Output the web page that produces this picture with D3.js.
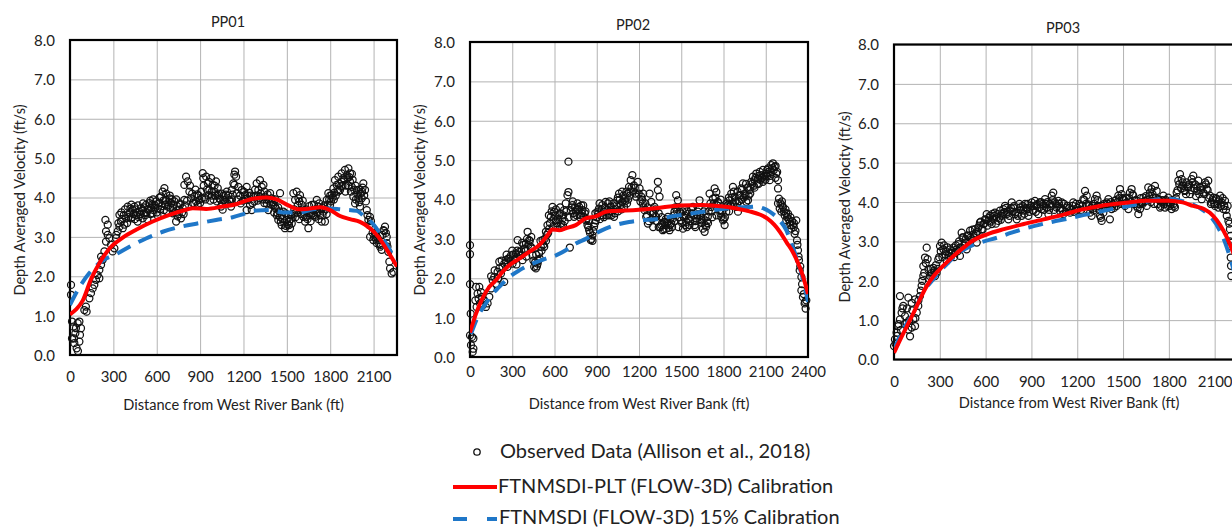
<!DOCTYPE html>
<html>
<head>
<meta charset="utf-8">
<script src="https://cdn.jsdelivr.net/npm/d3@7"></script>
<style>
html,body{margin:0;padding:0;background:#fff;}
svg{display:block;}
text{font-family:Lato,"Open Sans",sans-serif;fill:#222;}
</style>
</head>
<body>
<svg id="chart" width="1232" height="529"></svg>
<script>
// ---------- DATA ----------
const panelTitles = ["PP01", "PP02", "PP03"];
const xMaxes = [2262, 2400, 2262];
const yTicks = [0, 1, 2, 3, 4, 5, 6, 7, 8];
const xTicksPP01 = [0, 300, 600, 900, 1200, 1500, 1800, 2100];
const xTicksPP02 = [0, 300, 600, 900, 1200, 1500, 1800, 2100, 2400];
const xTicksPP03 = [0, 300, 600, 900, 1200, 1500, 1800, 2100];
const xAxisTitle = "Distance from West River Bank (ft)";
const yAxisTitle = "Depth Averaged Velocity (ft/s)";
const legendLabels = ["Observed Data (Allison et al., 2018)", "FTNMSDI-PLT (FLOW-3D) Calibration", "FTNMSDI (FLOW-3D) 15% Calibration"];

// Observed data PP01
const obsPP01 = [[7,1.78],[7,1.53],[14,0.85],[23,0.72],[37,0.55],[14,0.42],[30,0.30],[46,0.17],[55,0.10],[65,0.34],[69,0.51],[76,0.68],[65,0.85],[53,0.81],[41,0.68],[28,0.42],
[99,1.14],[110,1.23],[115,1.1],[134,1.44],[145,1.57],[157,1.69],[168,1.78],[180,1.91],[191,2.03],[203,2.16],[203,1.95],[215,2.29],[215,2.5],[226,2.42],[238,2.63],[249,2.88],[249,3.14],[245,3.43],[261,3.31],[261,3.05],[272,2.97],[284,2.8],[295,2.63],[307,2.71],[318,2.97],[330,3.14],[342,3.56],[342,3.26],[353,3.39],[365,3.22],[376,3.31],[388,3.47],[399,3.77],[411,3.6],[422,3.47],[434,3.69],[445,3.77],[457,3.56],[468,3.39],[480,3.64],[492,3.73],[503,3.47],[515,3.6],[526,3.81],[538,3.69],[549,3.86],[561,3.73],[572,3.6],[584,3.81],[595,3.9],[607,3.73],[618,3.86],[630,4.03],[641,4.15],[653,4.24],[664,3.94],[676,3.77],[688,3.98],[699,3.86],[711,3.73],[722,3.9],[734,3.39],[745,3.52],[757,3.69],[768,3.47],[780,3.73],[791,3.94],[791,4.32],[803,4.53],[814,4.41],[826,4.15],[837,3.98],[849,3.86],[861,4.03],[872,3.9],[884,3.81],[895,3.94],[907,4.15],[918,4.62],[922,4.49],[942,4.53],[953,4.36],[964,4.19],[976,4.49],[987,4.32],[999,4.15],[1010,4.41],[1022,4.24],[1033,3.98],[1045,3.77],[1056,3.69],[1068,3.94],[1079,4.07],[1102,3.94],[1114,3.77],[1125,4.07],[1137,4.32],[1137,4.58],
[1142,4.66],[1149,4.53],[1130,4.36],[1119,4.19],[1153,4.11],[1165,4.27],[1188,4.19],[1211,4.06],[1222,4.27],[1234,3.94],[1245,3.81],[1222,3.68],[1257,3.68],[1268,4.02],[1291,4.36],[1303,4.19],[1314,4.44],[1326,4.27],[1338,4.32],[1349,4.02],[1361,3.85],[1372,3.68],[1384,4.11],[1395,3.98],[1407,3.81],[1418,3.77],[1430,3.55],[1441,3.43],[1453,3.51],[1453,4.11],[1464,3.3],[1476,3.64],[1487,3.22],[1499,3.43],[1510,3.55],[1522,3.22],[1534,3.34],[1545,4.11],[1557,3.94],[1568,4.15],[1580,3.98],[1591,4.06],[1591,3.68],[1603,3.81],[1614,3.51],[1626,3.39],[1637,3.51],[1649,3.22],[1660,3.6],[1672,3.81],[1683,3.68],[1695,3.51],[1707,3.94],[1718,3.77],[1730,3.55],[1741,3.39],[1753,3.64],[1764,3.39],[1776,3.94],[1787,4.11],[1799,3.81],[1810,4.06],[1822,4.23],[1833,4.44],[1845,4.32],[1856,4.53],[1868,4.19],[1879,4.61],[1891,4.49],[1902,4.7],[1914,4.57],[1926,4.74],[1937,4.61],[1937,4.4],[1949,4.27],[1960,4.02],[1972,3.85],[1983,4.19],[1995,3.98],[2006,3.77],[2018,3.98],[2029,4.36],[2041,4.19],[2053,3.68],[2064,3.43],[2075,3.51],[2087,3.26],[2076,3.0],[2098,2.92],[2110,3.09],[2122,2.84],[2133,2.92],[2145,2.75],[2156,2.67],[2168,3.17],[2179,3.26],[2191,3.0],[2191,2.84],[2202,2.62],[2209,2.37],[2214,2.2],[2225,2.07],[2237,2.11],
[320,3.05],[335,3.35],[360,3.45],[372,3.55],[395,3.35],[405,3.5],[418,3.72],[430,3.5],[440,3.58],[452,3.7],[463,3.62],[475,3.5],[487,3.58],[498,3.66],[510,3.75],[520,3.55],[532,3.62],[544,3.7],[556,3.58],[566,3.82],[578,3.68],[590,3.74],[600,3.62],[612,3.85],[624,3.7],[636,3.78],[646,3.92],[658,3.82],[670,3.65],[682,3.88],[694,3.74],[705,3.95],[716,3.82],[728,3.62],[740,3.78],[752,3.58],[763,3.82],[775,3.62],[786,3.58],
[860,3.85],[880,4.08],[900,3.86],[912,3.98],[930,4.0],[947,4.2],[958,4.06],[970,3.92],[982,4.05],[993,3.95],[1005,4.05],[1016,3.9],[1028,4.1],[1040,3.95],[1052,3.85],[1062,4.05],[1074,3.88],[1085,4.15],[1096,4.05],[1108,3.9],[1160,3.95],[1176,4.05],[1196,3.92],[1205,4.14],[1228,4.05],[1240,4.12],[1262,3.86],[1275,3.9],[1285,4.05],[1297,3.92],[1310,3.98],[1320,4.1],[1332,3.95],[1344,3.86],[1356,3.95],[1367,4.08],[1378,3.9],[1390,3.82],[1401,3.88],[1412,3.62],[1424,3.72],[1436,3.6],[1447,3.65],[1458,3.38],[1470,3.45],[1482,3.36],[1493,3.28],[1505,3.32],[1516,3.4],[1528,3.45],[1540,3.58],[1552,3.7],[1563,3.62],[1575,3.8],[1586,3.9],[1597,3.58],[1608,3.7],[1620,3.62],[1632,3.7],[1643,3.45],[1655,3.78],[1666,3.55],[1678,3.6],[1689,3.82],[1700,3.7],[1712,3.62],[1724,3.85],[1736,3.7],[1747,3.55],[1758,3.8],[1770,3.7],[1782,3.82],[1793,3.95],[1805,3.9],[1816,4.0],[1828,4.12],[1839,4.05],[1850,4.2],[1862,4.35],[1874,4.28],[1885,4.3],[1897,4.45],[1908,4.3],[1920,4.5],[1931,4.52],[1943,4.15],[1955,4.45],[1966,4.2],[1978,3.95],[1989,4.08],[2000,3.88],[2012,4.1],[2024,4.25],[2035,4.05],[2047,3.9],[2058,3.55],[2070,3.3],[2082,3.4],[2093,3.1],[2104,3.0],[2116,2.95],[2127,2.98],[2139,2.82],[2150,2.8],[2162,3.05],[2173,3.15],[2185,3.1],[2196,2.75],
[355,3.62],[380,3.7],[425,3.82],[448,3.45],[470,3.8],[505,3.85],[535,3.45],[555,3.92],[575,3.95],[605,3.55],[620,4.0],[650,3.68],[665,4.1],[690,4.05],[712,3.6],[735,3.95],[760,3.85],[795,3.8],[810,3.92],[830,4.3],[845,4.1],[868,4.2],[890,4.05],[925,4.3],[936,3.95],[960,4.4],[980,4.15],[1000,4.3],[1020,4.05],[1050,4.1],[1090,3.85],[1120,3.95],[1180,3.85],[1215,3.95],[1250,4.05],[1280,4.2],[1300,4.05],[1345,4.15],[1370,3.95],[1420,3.95],[1440,3.75],[1465,3.55],[1490,3.6],[1515,3.3],[1530,3.55],[1560,3.5],[1585,3.45],[1610,3.92],[1640,3.65],[1665,3.4],[1690,3.55],[1720,3.45],[1745,3.75],[1775,3.58],[1800,4.05],[1825,3.95],[1855,4.15],[1880,4.4],[1905,4.15],[1925,4.3],[1950,4.6],[1975,4.3],[2000,4.2],[2020,4.15]];

const redPP01 = [[0,1.03],[40,1.15],[88,1.38],[145,1.92],[203,2.33],[272,2.7],[365,2.98],[457,3.18],[572,3.39],[688,3.56],[803,3.69],[849,3.73],[942,3.71],[1056,3.77],[1148,3.83],[1245,3.95],[1361,4.0],[1430,3.95],[1510,3.8],[1580,3.7],[1660,3.72],[1730,3.75],[1800,3.68],[1868,3.53],[1937,3.45],[2006,3.38],[2075,3.22],[2133,3.0],[2179,2.75],[2214,2.54],[2262,2.25]];
const bluePP01 = [[0,1.27],[65,1.72],[134,2.08],[226,2.4],[318,2.56],[411,2.75],[526,2.96],[641,3.13],[757,3.25],[895,3.35],[1010,3.43],[1125,3.5],[1200,3.58],[1268,3.66],[1384,3.68],[1476,3.62],[1591,3.62],[1683,3.7],[1799,3.72],[1868,3.7],[1983,3.66],[2040,3.5],[2098,3.32],[2150,3.05],[2200,2.75],[2262,2.3]];

// Observed data PP02
const obsPP02 = [[0,2.84],[0,2.61],[0,1.85],[5,1.1],[0,0.55],[14,0.51],[24,0.47],[7,0.3],[19,0.13],[24,0.21],
[43,1.78],[66,1.78],[78,1.65],[54,1.61],[38,1.44],[61,1.48],[85,1.53],[47,1.27],[71,1.36],[90,1.31],[102,1.44],[113,1.27],[125,1.36],[137,1.53],[149,1.74],[161,1.95],[172,2.03],[184,1.86],[196,2.16],[208,2.25],[208,2.42],[220,2.12],[231,2.29],[243,2.37],[243,1.91],[255,2.46],[267,2.29],[279,2.5],[291,2.58],[302,2.37],[314,2.46],[326,2.63],[338,2.97],[350,2.67],[361,2.58],[373,2.46],[385,2.75],[397,2.88],[409,3.18],[420,2.97],[432,2.8],[444,2.58],[456,2.29],[468,2.25],[480,2.37],[491,2.63],[503,2.8],[515,2.97],[527,2.8],[539,3.18],[550,3.35],[562,3.26],[574,3.56],[586,3.81],[598,3.69],[610,3.47],[621,3.31],[633,3.6],[645,3.39],[657,3.52],[668,3.73],[680,3.9],[692,4.11],[699,4.19],[699,4.96],[709,2.78],[716,3.73],[727,3.86],[739,3.56],[751,3.69],[763,3.9],[775,3.81],[787,3.6],[798,3.73],[810,3.56],[822,3.47],[834,3.35],[846,3.22],[857,2.97],[869,3.09],[881,3.31],[893,3.47],[905,3.69],[916,3.77],[928,3.6],[940,3.86],[952,3.69],[963,3.94],[975,3.73],[987,3.6],[999,3.81],[1011,3.69],[1023,3.56],[1034,3.77],[1046,3.98],[1058,4.15],[1070,3.86],[1082,3.94],[1094,3.81],[1105,4.03],[1117,4.15],[1129,4.32],[1141,4.49],[1153,4.62],[1164,4.36],
[1192,4.45],[1204,4.28],[1180,4.07],[1216,4.07],[1227,3.9],[1239,3.73],[1251,3.56],[1263,3.39],[1275,4.15],[1287,3.94],[1298,3.64],[1310,3.81],[1322,3.56],[1334,4.45],[1334,4.24],[1346,4.07],[1358,3.35],[1369,3.22],[1381,3.43],[1393,3.26],[1405,3.56],[1417,3.22],[1429,3.39],[1441,3.52],[1452,3.69],[1464,4.11],[1476,3.98],[1488,3.69],[1500,3.47],[1512,3.26],[1523,3.6],[1535,3.43],[1547,3.64],[1559,3.35],[1571,3.56],[1583,3.81],[1595,3.35],[1606,3.52],[1618,3.69],[1630,3.98],[1642,3.47],[1654,3.26],[1666,3.18],[1677,3.31],[1689,3.56],[1701,4.15],[1713,3.81],[1725,4.02],[1737,4.28],[1749,4.19],[1760,3.94],[1772,3.73],[1784,3.56],[1796,3.47],[1808,3.35],[1820,3.69],[1832,3.86],[1843,3.98],[1855,4.15],[1867,4.32],[1879,4.07],[1891,3.81],[1903,3.69],[1914,4.11],[1926,4.28],[1938,4.41],[1950,4.15],[1962,3.94],[1974,3.98],[1985,4.24],[1997,4.45],[2009,4.58],[2021,4.49],[2033,4.66],[2045,4.53],[2057,4.7],[2068,4.62],[2080,4.75],[2092,4.53],[2104,4.66],[2116,4.79],[2128,4.49],[2139,4.87],[2151,4.92],[2163,4.83],[2175,4.66],[2187,4.49],[2187,4.28],[2194,4.02],[2187,3.9],[2199,3.77],[2211,3.69],[2222,3.81],[2234,3.6],[2246,3.47],[2258,3.64],[2270,3.43],[2282,3.26],[2293,3.35],[2305,3.13],[2317,3.47],[2322,2.96],[2329,2.71],[2336,2.46],[2341,2.2],[2353,2.03],[2353,1.69],[2364,1.52],[2376,1.36],[2383,1.23],[2388,1.44],
[255,2.4],[270,2.5],[290,2.45],[305,2.6],[320,2.5],[335,2.7],[345,2.6],[365,2.68],[380,2.85],[395,2.7],[405,3.0],[415,2.85],[425,2.95],[440,2.75],[450,2.45],[462,2.4],[475,2.3],[485,2.45],[495,2.5],[508,2.7],[520,2.85],[530,3.0],[545,3.1],[555,3.15],[568,3.4],[580,3.7],[592,3.5],[603,3.6],[615,3.4],[625,3.5],[638,3.65],[650,3.3],[662,3.6],[672,3.45],[685,3.7],[722,3.8],[733,3.65],[745,3.8],[757,3.6],[770,3.75],[781,3.55],[793,3.65],[804,3.85],[815,3.65],[828,3.5],[840,3.3],[852,3.15],[863,3.0],[875,3.2],[887,3.4],[900,3.55],[912,3.65],[922,3.5],[935,3.75],[945,3.6],[958,3.8],[970,3.6],[980,3.9],[993,3.7],[1005,3.6],[1017,3.75],[1028,3.65],[1040,3.85],[1052,3.7],[1064,4.0],[1076,3.75],[1088,4.1],[1100,3.95],[1111,4.2],[1123,4.0],[1135,4.1],[1147,4.3],[1159,4.2],[1170,4.3],[1198,4.15],[1210,3.95],[1222,4.0],[1233,3.8],[1245,3.9],[1257,3.6],[1269,3.45],[1281,3.7],[1292,3.5],[1304,3.65],[1316,3.75],[1328,3.45],[1340,3.65],[1352,3.3],[1364,3.4],[1375,3.25],[1387,3.35],[1399,3.4],[1411,3.28],[1423,3.5],[1435,3.3],[1447,3.6],[1458,3.8],[1470,3.7],[1482,3.55],[1494,3.65],[1506,3.4],[1518,3.55],[1529,3.35],[1541,3.7],[1553,3.5],[1565,3.45],[1577,3.65],[1589,3.6],[1600,3.45],[1612,3.6],[1624,3.8],[1636,3.6],[1648,3.4],[1660,3.5],[1672,3.35],[1683,3.45],[1695,3.7],[1707,3.9],[1719,3.7],[1731,3.9],[1743,4.05],[1755,3.85],[1766,3.9],[1778,3.65],[1790,3.7],[1802,3.5],[1814,3.8],[1826,3.9],[1838,4.05],[1849,3.85],[1861,4.05],[1873,4.2],[1885,3.95],[1897,3.9],[1908,3.95],[1920,4.1],[1932,4.25],[1944,4.05],[1956,4.1],[1968,4.3],[1979,4.1],[1991,4.3],[2003,4.4],[2015,4.35],[2027,4.55],[2039,4.4],[2051,4.6],[2062,4.5],[2074,4.55],[2086,4.6],[2098,4.5],[2110,4.6],[2121,4.7],[2133,4.6],[2145,4.8],[2157,4.75],[2169,4.55],[2181,4.7],[2205,3.9],[2216,3.85],[2228,3.7],[2240,3.75],[2252,3.55],[2263,3.5],[2275,3.35],[2287,3.45],[2299,3.3],[2311,3.2],[2325,2.85],[2333,2.55],[2345,2.3],[2358,1.85],[2370,1.6],[2380,1.4],
[150,2.05],[175,2.2],[200,2.0],[225,2.45],[260,2.6],[300,2.7],[330,2.35],[370,2.9],[400,2.55],[435,3.05],[470,2.6],[500,2.95],[540,2.95],[560,3.6],[590,3.3],[610,3.75],[640,3.8],[660,3.35],[700,3.55],[730,3.95],[760,3.75],[790,3.85],[820,3.7],[845,3.45],[870,2.95],[890,3.65],[920,3.9],[950,3.55],[990,3.95],[1020,3.9],[1050,4.05],[1080,4.2],[1115,3.9],[1140,4.2],[1175,4.15],[1230,4.15],[1260,3.8],[1300,3.3],[1340,3.3],[1360,3.55],[1390,3.5],[1420,3.35],[1450,3.45],[1480,3.3],[1510,3.7],[1540,3.3],[1570,3.75],[1600,3.3],[1630,3.5],[1660,3.7],[1690,3.4],[1720,3.55],[1750,3.6],[1780,4.0],[1810,3.55],[1840,3.7],[1870,3.9],[1900,4.2],[1930,4.0],[1960,4.4],[1990,4.15],[2020,4.3],[2050,4.4],[2080,4.45],[2110,4.75],[2140,4.7],[2170,4.85],[2215,3.95],[2245,3.65],[2275,3.55],[2300,3.4]];

const redPP02 = [[0,0.62],[43,1.1],[90,1.5],[137,1.78],[184,1.95],[231,2.16],[279,2.33],[350,2.5],[420,2.67],[491,2.84],[550,3.09],[586,3.24],[633,3.22],[680,3.27],[751,3.35],[822,3.52],[893,3.57],[963,3.69],[1034,3.71],[1105,3.72],[1200,3.74],[1320,3.78],[1490,3.85],[1650,3.86],[1800,3.82],[1890,3.77],[1985,3.7],[2057,3.62],[2110,3.52],[2160,3.36],[2200,3.18],[2250,2.9],[2290,2.68],[2330,2.38],[2360,2.1],[2385,1.8],[2400,1.6]];
const bluePP02 = [[7,0.59],[66,1.1],[113,1.36],[161,1.61],[208,1.78],[279,2.03],[350,2.2],[444,2.37],[539,2.5],[610,2.58],[680,2.71],[751,2.88],[822,3.0],[893,3.14],[963,3.26],[1034,3.35],[1129,3.43],[1212,3.47],[1322,3.5],[1450,3.58],[1550,3.63],[1654,3.69],[1750,3.74],[1820,3.77],[1900,3.8],[1985,3.81],[2033,3.82],[2080,3.78],[2128,3.69],[2199,3.47],[2246,3.22],[2282,2.88],[2317,2.54],[2353,2.12],[2388,1.61],[2400,1.4]];

// Observed data PP03
const obsPP03 = [[0,0.34],[6,0.51],[17,0.68],[28,0.85],[39,1.02],[50,1.19],[39,1.61],[61,1.36],[72,1.1],[83,0.93],[94,0.76],[105,0.59],[116,0.81],[127,1.02],[138,0.85],[149,1.19],[159,1.36],[94,1.57],[116,1.44],[138,1.53],[170,1.61],[181,1.87],[192,2.12],[192,2.37],[203,2.59],[214,2.84],[225,2.29],[236,2.12],[247,2.2],[258,2.33],[269,2.12],[279,2.2],[290,2.54],[301,2.88],[312,2.97],[323,2.8],[334,2.67],[345,2.5],[356,2.63],[367,2.8],[378,2.71],[389,2.84],[400,2.71],[410,2.8],[421,2.93],[432,2.63],[443,3.22],[454,3.1],[465,2.97],[476,2.8],[487,3.14],[498,3.27],[509,3.05],[520,3.18],[531,3.31],[542,2.97],[552,3.35],[563,3.48],[574,3.31],[585,3.44],[596,3.56],[607,3.69],[618,3.52],[629,3.65],[640,3.44],[651,3.56],[661,3.73],[672,3.61],[683,3.52],[694,3.78],[705,3.65],[716,3.82],[727,3.9],[738,3.69],[749,3.56],[760,3.78],[771,3.99],[782,3.86],[793,3.69],[804,3.56],[814,3.73],[825,3.86],[836,3.65],[847,3.78],[858,3.95],[869,3.82],[880,3.65],[891,3.86],[902,3.99],[913,3.78],[923,4.03],[934,3.9],[945,3.69],[956,3.99],[967,3.82],[978,3.9],[989,4.07],[1000,3.86],[1011,3.69],[1022,3.95],[1033,4.16],[1043,4.24],[1054,3.99],[1065,3.86],[1076,4.03],[1087,3.78],
[1098,3.99],[1109,3.69],[1131,3.86],[1153,3.73],[1174,3.99],[1196,3.78],[1218,3.9],[1240,4.07],[1251,4.28],[1262,4.16],[1273,3.94],[1284,3.73],[1294,3.65],[1305,3.78],[1316,4.07],[1327,4.16],[1338,3.9],[1349,3.65],[1360,3.52],[1371,3.73],[1382,3.86],[1393,3.99],[1404,4.07],[1414,3.56],[1425,3.82],[1436,3.95],[1447,4.03],[1458,3.9],[1469,4.16],[1480,4.33],[1491,4.2],[1502,4.07],[1513,3.9],[1524,3.99],[1535,3.82],[1545,4.24],[1556,4.33],[1567,4.16],[1578,4.03],[1589,3.9],[1600,3.69],[1611,3.82],[1622,3.99],[1633,4.11],[1644,4.03],[1655,3.9],[1665,4.37],[1676,4.24],[1687,4.33],[1698,4.11],[1709,4.41],[1720,4.28],[1731,4.07],[1742,3.86],[1753,3.99],[1764,4.16],[1775,3.86],[1786,3.99],[1796,4.11],[1807,3.9],[1818,3.82],[1829,3.95],[1840,3.86],[1851,4.24],[1862,4.54],[1873,4.71],[1884,4.58],[1895,4.41],[1906,4.28],[1916,4.5],[1927,4.37],[1938,4.2],[1949,4.58],[1960,4.67],[1971,4.45],[1982,4.28],[1993,4.54],[2004,4.37],[2015,4.07],[2026,4.24],[2037,4.5],[2048,4.33],[2058,4.54],[2069,4.16],[2080,3.99],[2091,4.11],[2102,3.9],[2113,4.07],[2124,3.86],[2135,4.16],[2146,3.99],[2157,3.82],[2168,4.03],[2179,3.65],[2190,3.52],[2200,3.31],[2205,3.14],[2200,2.88],[2205,2.59],[2207,2.38],[2209,2.12],
[10,0.4],[20,0.6],[30,0.9],[45,0.75],[55,1.3],[70,0.9],[85,1.3],[100,1.0],[120,1.25],[140,1.05],[160,1.5],[175,1.75],[185,2.0],[198,2.2],[208,2.45],[220,2.55],[230,2.05],[242,2.3],[252,2.1],[263,2.25],[275,2.4],[285,2.3],[296,2.6],[306,2.75],[317,2.6],[328,2.9],[340,2.75],[350,2.85],[362,2.7],[372,2.6],[383,2.75],[394,2.6],[405,2.9],[416,2.75],[426,3.0],[438,2.85],[448,3.1],[460,2.9],[470,3.05],[481,3.15],[492,2.95],[503,3.1],[514,3.3],[525,3.1],[536,3.2],[547,3.25],[558,3.4],[569,3.5],[580,3.3],[591,3.45],[602,3.55],[612,3.4],[623,3.6],[634,3.5],[645,3.7],[656,3.65],[667,3.45],[678,3.7],[689,3.6],[700,3.55],[711,3.7],[722,3.75],[733,3.85],[744,3.75],[755,3.65],[766,3.85],[777,3.75],[788,3.9],[799,3.75],[810,3.65],[821,3.95],[832,3.8],[843,3.9],[854,3.7],[864,3.85],[875,3.95],[886,3.75],[897,3.9],[908,3.8],[918,3.9],[929,3.75],[940,3.95],[951,3.85],[962,4.0],[972,3.95],[983,3.8],[994,3.95],[1005,4.0],[1016,3.8],[1027,3.9],[1038,4.05],[1049,3.8],[1060,3.95],[1070,3.9],[1081,3.95],[1092,3.85],[1103,3.8],[1114,3.95],[1125,3.75],[1136,3.9],[1147,3.85],[1158,3.8],[1169,3.9],[1180,3.75],[1191,3.95],[1202,3.85],[1213,3.95],[1224,3.8],[1235,3.9],[1246,4.05],[1257,3.95],[1268,3.8],[1279,3.9],[1290,3.85],[1300,3.9],[1311,3.95],[1322,3.85],[1333,4.05],[1344,3.8],[1355,3.6],[1366,3.9],[1377,3.95],[1388,3.85],[1398,3.95],[1409,3.9],[1420,4.0],[1431,3.9],[1442,3.85],[1453,4.05],[1464,4.0],[1475,4.1],[1486,3.95],[1497,4.1],[1508,4.05],[1518,4.1],[1529,3.95],[1540,4.1],[1551,4.0],[1562,4.2],[1573,3.95],[1584,4.05],[1595,3.85],[1606,3.95],[1616,4.1],[1627,3.95],[1638,4.0],[1649,4.15],[1660,4.05],[1671,4.15],[1682,4.0],[1693,4.2],[1704,3.95],[1715,4.1],[1726,3.95],[1737,4.05],[1748,3.9],[1758,4.05],[1769,3.95],[1780,4.05],[1791,3.9],[1802,4.0],[1813,3.95],[1824,4.05],[1835,3.9],[1846,4.1],[1857,4.3],[1868,4.45],[1879,4.35],[1890,4.5],[1901,4.3],[1912,4.2],[1922,4.4],[1933,4.45],[1944,4.3],[1955,4.5],[1966,4.35],[1977,4.15],[1988,4.4],[1999,4.2],[2010,4.3],[2021,4.4],[2032,4.2],[2043,4.45],[2054,4.3],[2064,4.1],[2075,3.95],[2086,4.05],[2097,3.95],[2108,4.1],[2119,3.95],[2130,4.05],[2141,3.9],[2152,4.1],[2163,3.9],[2174,3.8],[2185,3.9],[2196,3.45],[2202,3.0]];

const redPP03 = [[0,0.17],[40,0.5],[85,0.85],[130,1.2],[170,1.53],[215,1.87],[260,2.12],[320,2.37],[390,2.63],[455,2.84],[520,3.03],[610,3.18],[720,3.31],[850,3.44],[980,3.56],[1110,3.68],[1220,3.8],[1350,3.9],[1520,3.98],[1650,4.03],[1800,4.03],[1890,3.99],[1960,3.9],[2030,3.82],[2090,3.65],[2135,3.42],[2180,3.1],[2215,2.78],[2262,2.3]];
const bluePP03 = [[0,0.25],[60,0.76],[130,1.2],[190,1.7],[260,2.05],[340,2.4],[430,2.72],[500,2.88],[590,3.0],[680,3.1],[770,3.22],[860,3.33],[950,3.42],[1040,3.5],[1130,3.57],[1220,3.65],[1310,3.72],[1400,3.8],[1500,3.87],[1600,3.95],[1700,4.05],[1800,4.08],[1880,4.03],[1950,3.95],[2020,3.8],[2080,3.6],[2130,3.3],[2170,2.95],[2200,2.6],[2230,2.2],[2262,1.8]];

// ---------- LAYOUT ----------
const svg = d3.select("#chart");
const panels = [
  {title: panelTitles[0], xMax: xMaxes[0], xTicks: xTicksPP01, obs: obsPP01, red: redPP01, blue: bluePP01,
   left: 70, right: 397, top: 40, bottom: 355, titleX: 228, titleY: 27, yTitleX: 25, yTitleY: 200, xTickY: 382, xTitleY: 410},
  {title: panelTitles[1], xMax: xMaxes[1], xTicks: xTicksPP02, obs: obsPP02, red: redPP02, blue: bluePP02,
   left: 470, right: 808, top: 42, bottom: 357, titleX: 633, titleY: 30, yTitleX: 425, yTitleY: 200, xTickY: 377, xTitleY: 409},
  {title: panelTitles[2], xMax: xMaxes[2], xTicks: xTicksPP03, obs: obsPP03, red: redPP03, blue: bluePP03,
   left: 894, right: 894 + 2262 * 0.1527, top: 44.5, bottom: 359.5, titleX: 1063, titleY: 33, yTitleX: 850, yTitleY: 207, xTickY: 387, xTitleY: 408}
];

panels.forEach((p, i) => {
  const x = d3.scaleLinear().domain([0, p.xMax]).range([p.left, p.right]);
  const y = d3.scaleLinear().domain([0, 8]).range([p.bottom, p.top]);
  const g = svg.append("g");
  const w = p.right - p.left, h = p.bottom - p.top;

  const clipId = "clip" + i;
  svg.append("clipPath").attr("id", clipId).append("rect")
    .attr("x", p.left).attr("y", p.top).attr("width", w).attr("height", h);

  // grid
  g.append("g").attr("transform", `translate(0,${p.bottom})`)
    .call(d3.axisBottom(x).tickValues(p.xTicks).tickSize(-h).tickFormat(""))
    .call(s => s.select(".domain").remove())
    .call(s => s.selectAll("line").attr("stroke", "#b3b3b3").attr("stroke-width", 1));
  g.append("g").attr("transform", `translate(${p.left},0)`)
    .call(d3.axisLeft(y).tickValues(yTicks).tickSize(-w).tickFormat(""))
    .call(s => s.select(".domain").remove())
    .call(s => s.selectAll("line").attr("stroke", "#b3b3b3").attr("stroke-width", 1));

  // tick labels
  g.append("g").attr("transform", `translate(0,${p.xTickY})`)
    .call(d3.axisBottom(x).tickValues(p.xTicks).tickSize(0).tickPadding(0).tickFormat(d3.format("d")))
    .call(s => s.select(".domain").remove())
    .call(s => s.selectAll("text").attr("dy", "0").attr("font-size", "15px").attr("fill", "#222").attr("font-family", "Lato"));
  g.append("g").attr("transform", `translate(${p.left - 15},0)`)
    .call(d3.axisLeft(y).tickValues(yTicks).tickSize(0).tickPadding(0).tickFormat(d3.format(".1f")))
    .call(s => s.select(".domain").remove())
    .call(s => s.selectAll("text").attr("dy", "0.36em").attr("font-size", "15px").attr("fill", "#222").attr("font-family", "Lato"));

  // frame
  g.append("rect").attr("x", p.left).attr("y", p.top).attr("width", w).attr("height", h)
    .attr("fill", "none").attr("stroke", "#000").attr("stroke-width", 2.2);

  // observed points
  g.append("g").selectAll("circle").data(p.obs).join("circle")
    .attr("cx", d => x(d[0])).attr("cy", d => y(d[1])).attr("r", 3.5)
    .attr("fill", "none").attr("stroke", "#111").attr("stroke-width", 1.25);

  const line = d3.line().x(d => x(d[0])).y(d => y(d[1])).curve(d3.curveMonotoneX);
  g.append("path").datum(p.blue).attr("d", line).attr("clip-path", `url(#${clipId})`)
    .attr("fill", "none").attr("stroke", "#1f77c8").attr("stroke-width", 4)
    .attr("stroke-dasharray", "15,9");
  g.append("path").datum(p.red).attr("d", line).attr("clip-path", `url(#${clipId})`)
    .attr("fill", "none").attr("stroke", "#ff0000").attr("stroke-width", 4);

  // titles
  g.append("text").attr("x", p.titleX).attr("y", p.titleY).attr("text-anchor", "middle")
    .attr("font-size", "14.5px").text(p.title);
  g.append("text").attr("x", (p.left + Math.min(p.right, 1232)) / 2 + (i === 2 ? 6 : 0)).attr("y", p.xTitleY).attr("text-anchor", "middle")
    .attr("font-size", "14.6px").text(xAxisTitle);
  g.append("text").attr("transform", `translate(${p.yTitleX},${p.yTitleY}) rotate(-90)`)
    .attr("text-anchor", "middle").attr("font-size", "14.6px").text(yAxisTitle);
});

// ---------- LEGEND ----------
const lg = svg.append("g");
lg.append("circle").attr("cx", 477).attr("cy", 452).attr("r", 3.2)
  .attr("fill", "none").attr("stroke", "#111").attr("stroke-width", 1.3);
lg.append("text").attr("x", 500).attr("y", 458).attr("font-size", "20px").text(legendLabels[0]);
lg.append("line").attr("x1", 453).attr("x2", 497).attr("y1", 487).attr("y2", 487)
  .attr("stroke", "#ff0000").attr("stroke-width", 4);
lg.append("text").attr("x", 498).attr("y", 493).attr("font-size", "20px").text(legendLabels[1]);
lg.append("line").attr("x1", 453).attr("x2", 497).attr("y1", 519).attr("y2", 519)
  .attr("stroke", "#1f77c8").attr("stroke-width", 4).attr("stroke-dasharray", "14,20");
lg.append("text").attr("x", 499).attr("y", 524).attr("font-size", "20px").text(legendLabels[2]);
</script>
</body>
</html>
